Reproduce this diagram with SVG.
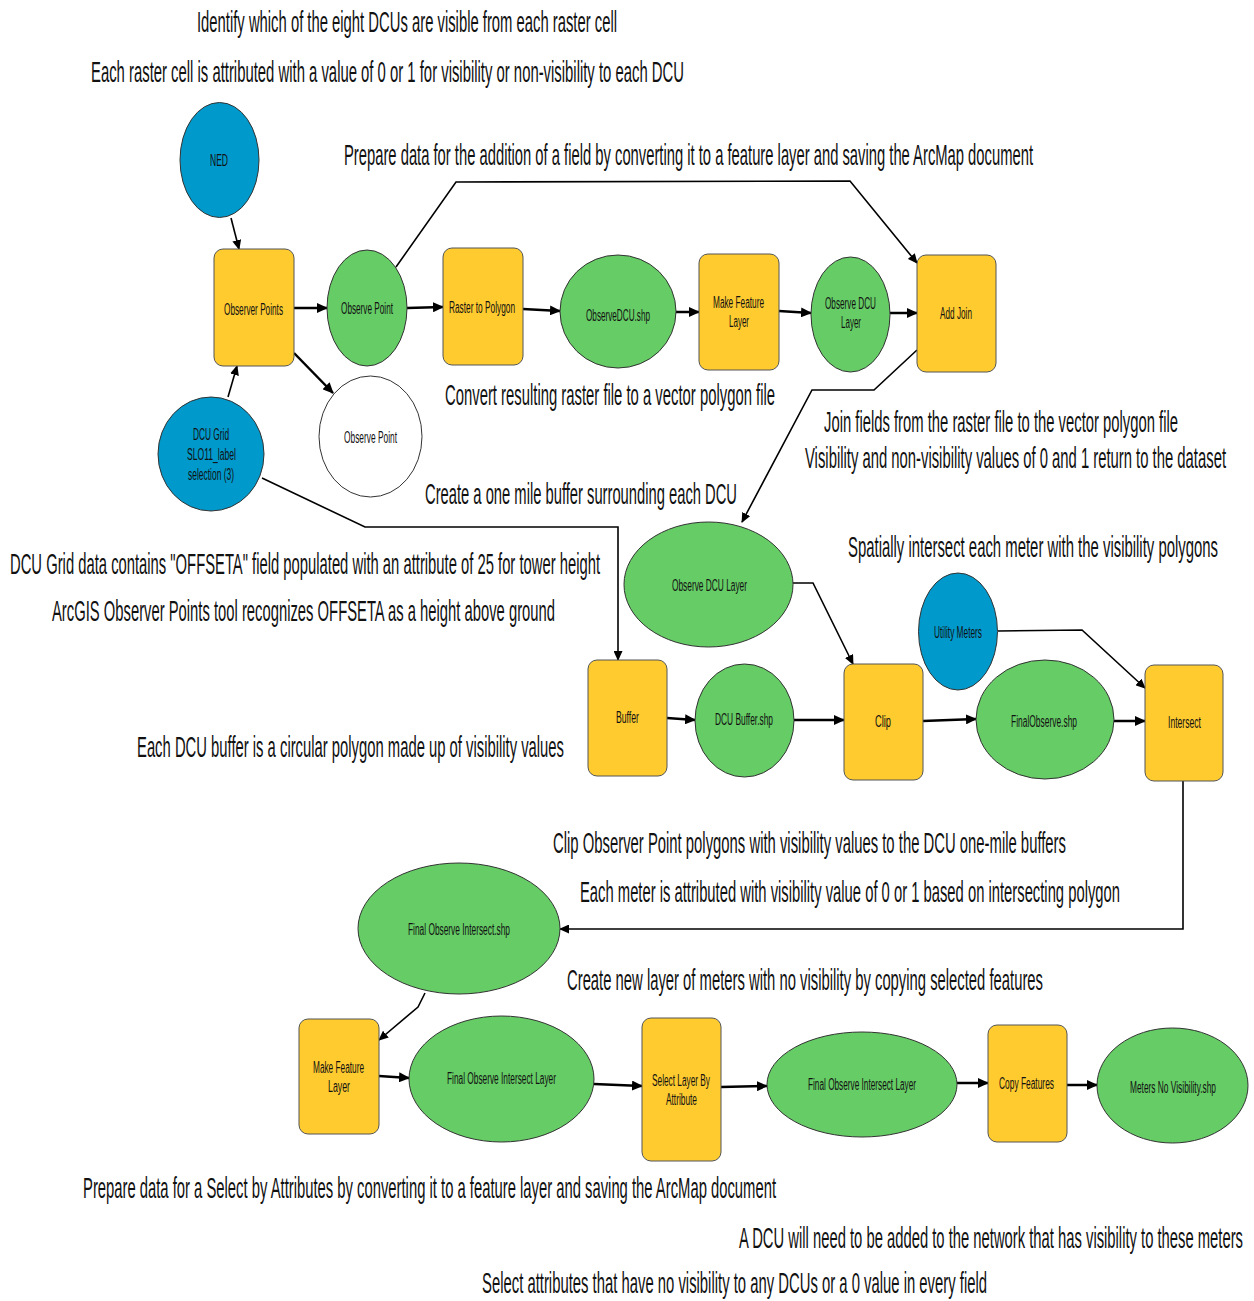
<svg xmlns="http://www.w3.org/2000/svg" width="1254" height="1301" viewBox="0 0 1254 1301">
<style>
text{font-family:"Liberation Sans",Arial,sans-serif;fill:#111}
.lbl{font-size:29px}
.nt{font-size:16px}
.tool{fill:#FFCB2F;stroke:#555;stroke-width:1}
.data{fill:#66CC66;stroke:#333;stroke-width:1}
.inp{fill:#0099CC;stroke:#333;stroke-width:1}
.out{fill:#fff;stroke:#333;stroke-width:1}
.c{fill:none;stroke:#000;stroke-width:2.5;marker-end:url(#ah)}
.t{fill:none;stroke:#000;stroke-width:1.6;marker-end:url(#ah2)}
</style>
<defs>
<marker id="ah" markerUnits="userSpaceOnUse" markerWidth="11" markerHeight="10" refX="10" refY="5" orient="auto"><path d="M0,0 L11,5 L0,10 z" fill="#000"/></marker>
<marker id="ah2" markerUnits="userSpaceOnUse" markerWidth="10" markerHeight="9" refX="9" refY="4.5" orient="auto"><path d="M0,0 L10,4.5 L0,9 z" fill="#000"/></marker>
</defs>
<rect width="1254" height="1301" fill="#fff"/>

<g id="labels" class="lbl">
<text x="197" y="32" textLength="420" lengthAdjust="spacingAndGlyphs">Identify which of the eight DCUs are visible from each raster cell</text>
<text x="91" y="82" textLength="593" lengthAdjust="spacingAndGlyphs">Each raster cell is attributed with a value of 0 or 1 for visibility or non-visibility to each DCU</text>
<text x="344" y="165" textLength="689" lengthAdjust="spacingAndGlyphs">Prepare data for the addition of a field by converting it to a feature layer and saving the ArcMap document</text>
<text x="445" y="405" textLength="330" lengthAdjust="spacingAndGlyphs">Convert resulting raster file to a vector polygon file</text>
<text x="824" y="432" textLength="354" lengthAdjust="spacingAndGlyphs">Join fields from the raster file to the vector polygon file</text>
<text x="805" y="468" textLength="421" lengthAdjust="spacingAndGlyphs">Visibility and non-visibility values of 0 and 1 return to the dataset</text>
<text x="425" y="504" textLength="312" lengthAdjust="spacingAndGlyphs">Create a one mile buffer surrounding each DCU</text>
<text x="848" y="557" textLength="370" lengthAdjust="spacingAndGlyphs">Spatially intersect each meter with the visibility polygons</text>
<text x="10" y="574" textLength="590" lengthAdjust="spacingAndGlyphs">DCU Grid data contains "OFFSETA" field populated with an attribute of 25 for tower height</text>
<text x="52" y="621" textLength="503" lengthAdjust="spacingAndGlyphs">ArcGIS Observer Points tool recognizes OFFSETA as a height above ground</text>
<text x="137" y="757" textLength="427" lengthAdjust="spacingAndGlyphs">Each DCU buffer is a circular polygon made up of visibility values</text>
<text x="553" y="853" textLength="513" lengthAdjust="spacingAndGlyphs">Clip Observer Point polygons with visibility values to the DCU one-mile buffers</text>
<text x="580" y="902" textLength="540" lengthAdjust="spacingAndGlyphs">Each meter is attributed with visibility value of 0 or 1 based on intersecting polygon</text>
<text x="567" y="990" textLength="476" lengthAdjust="spacingAndGlyphs">Create new layer of meters with no visibility by copying selected features</text>
<text x="83" y="1198" textLength="693" lengthAdjust="spacingAndGlyphs">Prepare data for a Select by Attributes by converting it to a feature layer and saving the ArcMap document</text>
<text x="739" y="1248" textLength="504" lengthAdjust="spacingAndGlyphs">A DCU will need to be added to the network that has visibility to these meters</text>
<text x="482" y="1293" textLength="505" lengthAdjust="spacingAndGlyphs">Select attributes that have no visibility to any DCUs or a 0 value in every field</text>
</g>

<g id="connectors">
<path class="t" d="M231,218 L239,249"/>
<path class="t" d="M228,397 L237,366"/>
<path class="c" d="M294,308 L327,308"/>
<path class="c" d="M294,353 L333,393"/>
<path class="t" d="M396,267 L456,182 L850,181 L917,263"/>
<path class="c" d="M407,308 L443,307"/>
<path class="c" d="M523,309 L560,311"/>
<path class="c" d="M676,312 L699,312"/>
<path class="c" d="M779,311 L811,313"/>
<path class="c" d="M890,313 L917,313"/>
<path class="t" d="M917,350 L874,390 L812,390 L742,522"/>
<path class="t" d="M262,478 L365,527 L618,527 L618,660"/>
<path class="t" d="M793,583 L813,583 L853,664"/>
<path class="t" d="M998,631 L1082,630 L1145,688"/>
<path class="c" d="M667,718 L695,720"/>
<path class="c" d="M794,720 L844,720"/>
<path class="c" d="M923,721 L976,719"/>
<path class="c" d="M1114,721 L1145,721"/>
<path class="t" d="M1183,781 L1183,929 L560,929"/>
<path class="t" d="M425,993 L418,1007 L379,1040"/>
<path class="c" d="M379,1076 L409,1078"/>
<path class="c" d="M594,1084 L642,1086"/>
<path class="c" d="M721,1087 L767,1086"/>
<path class="c" d="M957,1083 L988,1083"/>
<path class="c" d="M1067,1085 L1097,1085"/>
</g>

<g id="ned"><ellipse class="inp" cx="219.5" cy="160" rx="39.5" ry="57.5"/><text class="nt" x="210" y="166" textLength="18" lengthAdjust="spacingAndGlyphs">NED</text></g>
<g id="observer-points"><rect class="tool" x="214" y="249" width="80" height="117" rx="9"/><text class="nt" x="224" y="315" textLength="59" lengthAdjust="spacingAndGlyphs">Observer Points</text></g>
<g id="observe-point"><ellipse class="data" cx="367" cy="308" rx="40" ry="58"/><text class="nt" x="341" y="314" textLength="52" lengthAdjust="spacingAndGlyphs">Observe Point</text></g>
<g id="raster-to-polygon"><rect class="tool" x="443" y="248" width="80" height="117" rx="9"/><text class="nt" x="449" y="313" textLength="66" lengthAdjust="spacingAndGlyphs">Raster to Polygon</text></g>
<g id="observedcu-shp"><ellipse class="data" cx="618" cy="311.5" rx="58" ry="56.5"/><text class="nt" x="586" y="321" textLength="64" lengthAdjust="spacingAndGlyphs">ObserveDCU.shp</text></g>
<g id="make-feature-layer-1"><rect class="tool" x="699" y="254" width="80" height="116" rx="9"/><text class="nt" x="713" y="308" textLength="51" lengthAdjust="spacingAndGlyphs">Make Feature</text><text class="nt" x="729" y="327" textLength="20" lengthAdjust="spacingAndGlyphs">Layer</text></g>
<g id="observe-dcu-layer-1"><ellipse class="data" cx="850.5" cy="314.5" rx="39.5" ry="57.5"/><text class="nt" x="825" y="309" textLength="51" lengthAdjust="spacingAndGlyphs">Observe DCU</text><text class="nt" x="841" y="328" textLength="20" lengthAdjust="spacingAndGlyphs">Layer</text></g>
<g id="add-join"><rect class="tool" x="917" y="255" width="79" height="117" rx="9"/><text class="nt" x="940" y="319" textLength="32" lengthAdjust="spacingAndGlyphs">Add Join</text></g>
<g id="observe-point-out"><ellipse class="out" cx="370.5" cy="436.5" rx="51.5" ry="60.5"/><text class="nt" x="344" y="443" textLength="53" lengthAdjust="spacingAndGlyphs">Observe Point</text></g>
<g id="dcu-grid"><ellipse class="inp" cx="211" cy="454" rx="53" ry="57"/><text class="nt" x="193" y="440" textLength="36" lengthAdjust="spacingAndGlyphs">DCU Grid</text><text class="nt" x="187" y="460" textLength="49" lengthAdjust="spacingAndGlyphs">SLO11_label</text><text class="nt" x="188" y="480" textLength="46" lengthAdjust="spacingAndGlyphs">selection (3)</text></g>
<g id="observe-dcu-layer-2"><ellipse class="data" cx="708.5" cy="584.5" rx="84.5" ry="62.5"/><text class="nt" x="672" y="591" textLength="75" lengthAdjust="spacingAndGlyphs">Observe DCU Layer</text></g>
<g id="utility-meters"><ellipse class="inp" cx="958" cy="631.5" rx="39.5" ry="58.5"/><text class="nt" x="934" y="638" textLength="48" lengthAdjust="spacingAndGlyphs">Utility Meters</text></g>
<g id="buffer"><rect class="tool" x="588" y="660" width="79" height="116" rx="9"/><text class="nt" x="616" y="723" textLength="23" lengthAdjust="spacingAndGlyphs">Buffer</text></g>
<g id="dcu-buffer-shp"><ellipse class="data" cx="744.5" cy="720.5" rx="49.5" ry="56.5"/><text class="nt" x="715" y="725" textLength="58" lengthAdjust="spacingAndGlyphs">DCU Buffer.shp</text></g>
<g id="clip"><rect class="tool" x="844" y="664" width="79" height="116" rx="9"/><text class="nt" x="875" y="727" textLength="16" lengthAdjust="spacingAndGlyphs">Clip</text></g>
<g id="finalobserve-shp"><ellipse class="data" cx="1045" cy="719.5" rx="69" ry="59.5"/><text class="nt" x="1011" y="727" textLength="66" lengthAdjust="spacingAndGlyphs">FinalObserve.shp</text></g>
<g id="intersect"><rect class="tool" x="1145" y="665" width="78" height="116" rx="9"/><text class="nt" x="1168" y="728" textLength="33" lengthAdjust="spacingAndGlyphs">Intersect</text></g>
<g id="final-observe-intersect-shp"><ellipse class="data" cx="459" cy="928.5" rx="101" ry="65.5"/><text class="nt" x="408" y="935" textLength="102" lengthAdjust="spacingAndGlyphs">Final Observe Intersect.shp</text></g>
<g id="make-feature-layer-2"><rect class="tool" x="299" y="1019" width="80" height="115" rx="9"/><text class="nt" x="313" y="1073" textLength="51" lengthAdjust="spacingAndGlyphs">Make Feature</text><text class="nt" x="328" y="1092" textLength="22" lengthAdjust="spacingAndGlyphs">Layer</text></g>
<g id="final-observe-intersect-layer-1"><ellipse class="data" cx="501.5" cy="1079" rx="92.5" ry="63"/><text class="nt" x="447" y="1084" textLength="109" lengthAdjust="spacingAndGlyphs">Final Observe Intersect Layer</text></g>
<g id="select-layer-by-attribute"><rect class="tool" x="642" y="1018" width="79" height="143" rx="9"/><text class="nt" x="652" y="1086" textLength="58" lengthAdjust="spacingAndGlyphs">Select Layer By</text><text class="nt" x="666" y="1105" textLength="31" lengthAdjust="spacingAndGlyphs">Attribute</text></g>
<g id="final-observe-intersect-layer-2"><ellipse class="data" cx="862" cy="1084.5" rx="95" ry="52.5"/><text class="nt" x="808" y="1090" textLength="108" lengthAdjust="spacingAndGlyphs">Final Observe Intersect Layer</text></g>
<g id="copy-features"><rect class="tool" x="988" y="1025" width="79" height="117" rx="9"/><text class="nt" x="999" y="1089" textLength="55" lengthAdjust="spacingAndGlyphs">Copy Features</text></g>
<g id="meters-no-visibility"><ellipse class="data" cx="1172.5" cy="1085.5" rx="75.5" ry="57.5"/><text class="nt" x="1130" y="1093" textLength="86" lengthAdjust="spacingAndGlyphs">Meters No Visibility.shp</text></g>
</svg>
